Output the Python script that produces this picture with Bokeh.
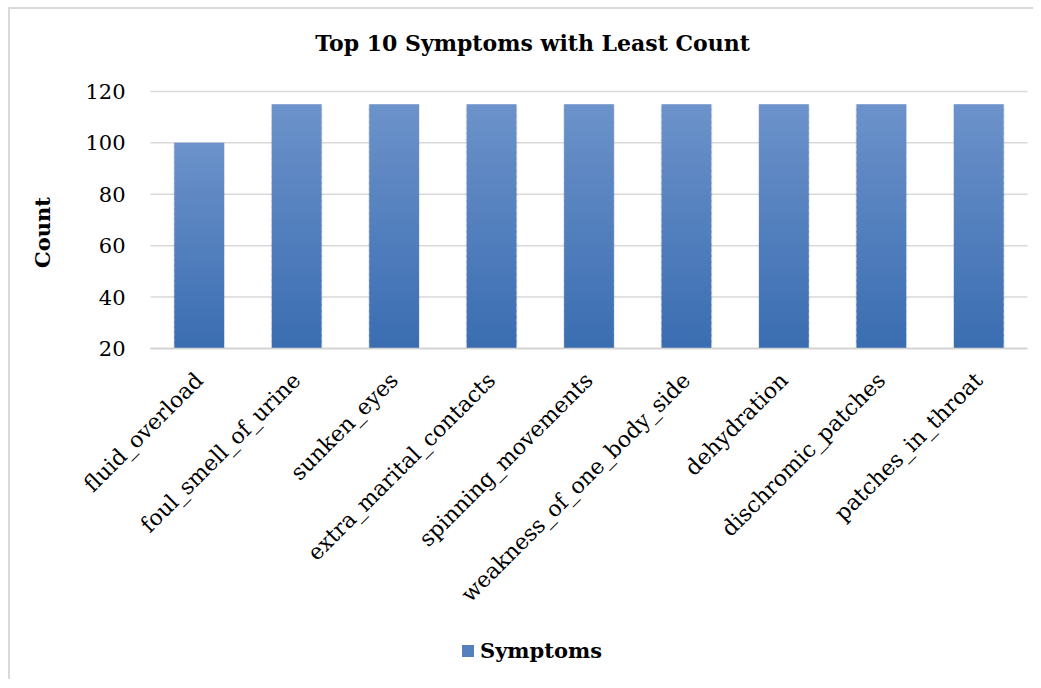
import math
from bokeh.plotting import figure
from bokeh.models import (ColumnDataSource, Legend, LegendItem, Label,
                          Range1d, FixedTicker)
from bokeh.embed import file_html
from bokeh.resources import INLINE

# ---- data ----
symptoms = ["fluid_overload", "foul_smell_of_urine", "sunken_eyes",
            "extra_marital_contacts", "spinning_movements",
            "weakness_of_one_body_side", "dehydration",
            "dischromic_patches", "patches_in_throat"]
counts = [100, 115, 115, 115, 115, 115, 115, 115, 115]
y_ticks = [20, 40, 60, 80, 100, 120]
title_text = "Top 10 Symptoms with Least Count"
y_label = "Count"
series_name = "Symptoms"

# category positions on the x scale (one slot per symptom)
pos = list(range(len(symptoms)))

# ---- gradient bands (styling of each bar) ----
Y0 = 20
N = 40
top_rgb = (0x6c, 0x92, 0xca)
bot_rgb = (0x3a, 0x6d, 0xb1)


def mix(f):
    r = [round(b + (t - b) * f) for t, b in zip(top_rgb, bot_rgb)]
    return "#%02x%02x%02x" % tuple(r)


xs, bottoms, tops, colors = [], [], [], []
for xp, v in zip(pos, counts):
    for k in range(N):
        b = Y0 + (v - Y0) * k / N
        t = Y0 + (v - Y0) * (k + 1) / N
        if k < N - 1:
            t += 0.6
        xs.append(xp)
        bottoms.append(b)
        tops.append(t)
        colors.append(mix((k + 0.5) / N))

src = ColumnDataSource(dict(x=xs, bottom=bottoms, top=tops, color=colors))
shadow_src = ColumnDataSource(dict(x=pos, top=counts))

SERIF = "DejaVu Serif"
X_LO, X_HI = pos[0] - 0.5, pos[-1] + 0.5   # edges of the category slots

p = figure(width=1025, height=672,
           x_range=Range1d(X_LO - 1.4368, X_HI + 0.0821),
           y_range=Range1d(-109.6, 148), output_backend="svg", toolbar_location=None,
           title=None, min_border_left=0, min_border_top=10,
           min_border_right=0, min_border_bottom=0)
p.outline_line_color = None
p.background_fill_color = "white"
p.border_fill_color = "white"
p.xgrid.visible = False
p.ygrid.visible = False

# horizontal gridlines over the category area
p.segment(x0=X_LO, x1=X_HI, y0=y_ticks, y1=y_ticks,
          line_color="#d9d9d9", line_width=1.5)

# light shadow behind bars
p.vbar(x="x", top="top", bottom=Y0, width=0.53, source=shadow_src,
       fill_color="#000000", fill_alpha=0.10, line_color=None)

r = p.vbar(x="x", top="top", bottom="bottom", width=0.51, source=src,
           fill_color="color", line_color=None)

# y axis (drawn at the left edge of the category area)
p.yaxis.fixed_location = X_LO
p.yaxis.ticker = FixedTicker(ticks=y_ticks)
p.yaxis.axis_line_color = None
p.yaxis.major_tick_line_color = None
p.yaxis.minor_tick_line_color = None
p.yaxis.major_label_text_font = SERIF
p.yaxis.major_label_text_font_size = "21px"
p.yaxis.major_label_text_color = "#000000"
p.yaxis.major_label_standoff = 19

# x axis (category labels)
p.xaxis.fixed_location = Y0
p.xaxis.bounds = (X_LO, X_HI)
p.xaxis.ticker = FixedTicker(ticks=pos)
p.xaxis.major_label_overrides = {xp: s for xp, s in zip(pos, symptoms)}
p.xaxis.axis_line_color = "#d0d0d0"
p.xaxis.axis_line_width = 1.5
p.xaxis.major_tick_line_color = None
p.xaxis.minor_tick_line_color = None
p.xaxis.major_label_orientation = math.pi / 4
p.xaxis.major_label_text_font = SERIF
p.xaxis.major_label_text_font_size = "22px"
p.xaxis.major_label_text_color = "#000000"
p.xaxis.major_label_standoff = 22

# y axis title
p.add_layout(Label(x=X_LO - 1.1033, y=65.1, text=y_label, angle=math.pi / 2,
                   text_font=SERIF, text_font_size="21px", text_font_style="bold",
                   text_align="center", text_baseline="middle",
                   text_color="#000000"))

# chart title
p.add_layout(Label(x=X_LO + 3.9203, y=138.7, text=title_text, text_font=SERIF,
                   text_font_size="22px", text_font_style="bold",
                   text_align="center", text_baseline="middle",
                   text_color="#000000"))

# legend below the category labels
legend = Legend(items=[LegendItem(label=series_name, renderers=[r], index=N // 2)],
                location=(450, 18), orientation="horizontal",
                glyph_width=15, glyph_height=15, label_standoff=5,
                padding=0, margin=0, border_line_color=None,
                background_fill_alpha=0,
                label_text_font=SERIF, label_text_font_size="21px",
                label_text_font_style="bold", label_text_color="#000000")
p.add_layout(legend)

p.styles = {"margin-left": "8px", "margin-top": "7px",
            "border-left": "2px solid #d9d9d9", "border-top": "2px solid #d9d9d9"}

open("out.html", "w").write(file_html(p, INLINE))
